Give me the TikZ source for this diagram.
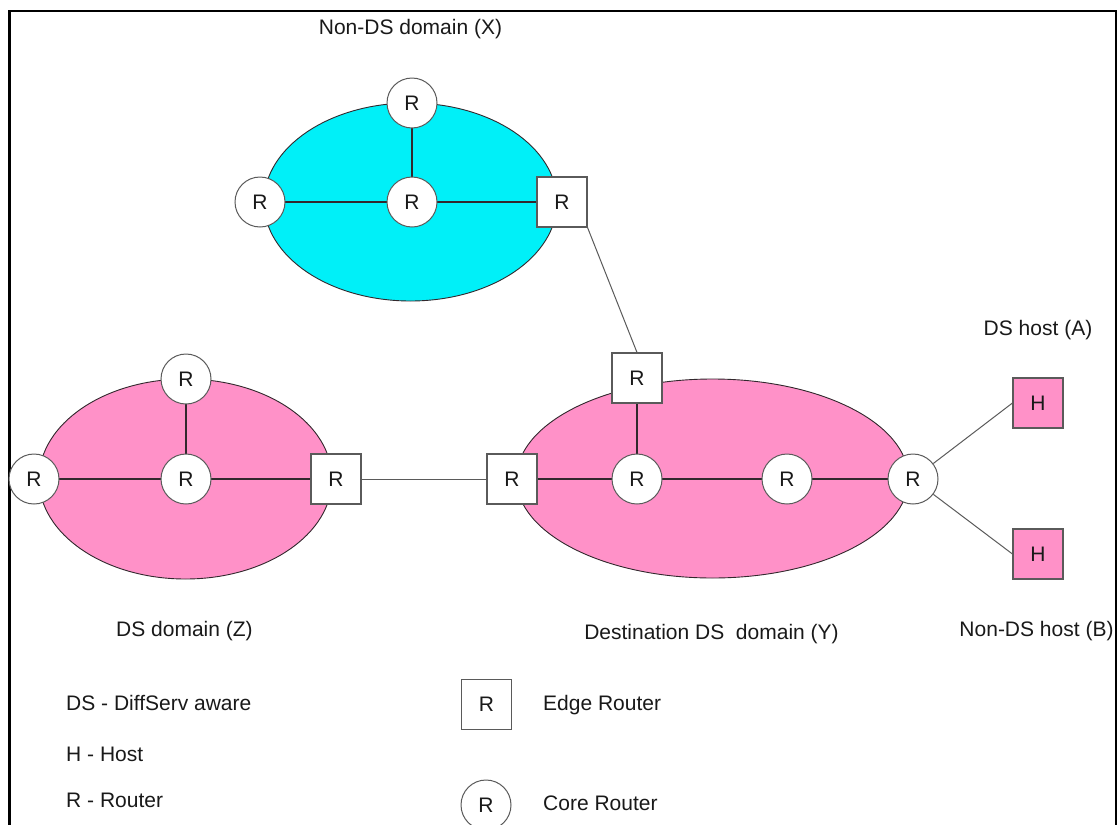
\documentclass[tikz,border=0pt]{standalone}
\usepackage{fontspec}
\setmainfont{Liberation Sans}
\usetikzlibrary{shapes.geometric}

\definecolor{domcyan}{RGB}{0,240,248}
\definecolor{dompink}{RGB}{255,145,200}
\definecolor{inkline}{RGB}{50,40,45}
\definecolor{linkgray}{RGB}{90,90,90}
\definecolor{txt}{RGB}{25,25,25}

\tikzset{
  netdomain/.style={ellipse, draw=inkline, line width=0.9pt, inner sep=0pt},
  corert/.style={circle, draw=linkgray, fill=white, line width=1pt,
    minimum size=50pt, inner sep=0pt, text=txt},
  edgert/.style={rectangle, draw=linkgray, fill=white, line width=1.1pt,
    minimum size=50pt, inner sep=0pt, text=txt},
  hostbox/.style={edgert, fill=dompink},
  inlink/.style={draw=inkline, line width=1.1pt},
  outlink/.style={draw=linkgray, line width=1pt},
  caption/.style={inner sep=0pt, text=txt},
}

\begin{document}
\begin{tikzpicture}[x=1pt, y=-1pt, font=\fontsize{21}{25}\selectfont]
\useasboundingbox (0,0) rectangle (1117,825);

% outer frame (open at the bottom)
\draw[line width=2.4pt, line join=miter] (9.5,830) -- (9.5,11) -- (1116,11) -- (1116,830);

% domains
\node[netdomain, fill=domcyan, minimum width=293pt, minimum height=198pt] (domx) at (410.5,202) {};
\node[netdomain, fill=dompink, minimum width=293pt, minimum height=200pt] (domz) at (185.5,479) {};
\node[netdomain, fill=dompink, minimum width=392pt, minimum height=199pt] (domy) at (712.5,478.5) {};

% links inside the domains
\coordinate (xtc) at (412,103);
\coordinate (xcc) at (412,202);
\draw[inlink] (xtc) -- (xcc);
\draw[inlink] (260,202) coordinate (xlc) -- (xcc);
\draw[inlink] (xcc) -- (562,202) coordinate (xec);

\draw[inlink] (186,379) coordinate (ztc) -- (186,479) coordinate (zcc);
\draw[inlink] (34,479) coordinate (zlc) -- (zcc);
\draw[inlink] (zcc) -- (336,479) coordinate (zec);

\draw[inlink] (512,479) coordinate (ylc) -- (637,479) coordinate (ycc);
\draw[inlink] (637,378) coordinate (ytc) -- (ycc);
\draw[inlink] (ycc) -- (787,479) coordinate (ymc);
\draw[inlink] (ymc) -- (913,479) coordinate (yrc);

% routers of domain X
\node[corert] (xt) at (xtc) {R};
\node[corert] (xc) at (xcc) {R};
\node[corert] (xl) at (xlc) {R};
\node[edgert] (xe) at (xec) {R};

% routers of domain Z
\node[corert] (zt) at (ztc) {R};
\node[corert] (zc) at (zcc) {R};
\node[corert] (zl) at (zlc) {R};
\node[edgert] (ze) at (zec) {R};

% routers of domain Y
\node[edgert] (yl) at (ylc) {R};
\node[edgert] (yt) at (ytc) {R};
\node[corert] (yc) at (ycc) {R};
\node[corert] (ym) at (ymc) {R};
\node[corert] (yr) at (yrc) {R};

% hosts
\node[hostbox] (ha) at (1038,403) {H};
\node[hostbox] (hb) at (1038,554) {H};

% links between domains and to hosts
\draw[outlink] (xe.south east) -- (yt.north);
\draw[outlink] (ze) -- (yl);
\draw[outlink] (yr) -- (ha.west);
\draw[outlink] (yr) -- (hb.west);

% captions
\node[caption, anchor=base] (capx) at (410.5,34.5) {Non-DS domain (X)};
\node[caption, anchor=base] (capa) at (1038,335.5) {DS host (A)};
\node[caption, anchor=base] (capb) at (1036.5,636) {Non-DS host (B)};
\node[caption, anchor=base] (capz) at (184.5,636) {DS domain (Z)};
\node[caption, anchor=base] (capy) at (711.5,639) {Destination DS\ \ domain (Y)};

% legend
\node[caption, anchor=base west] (lg1) at (66,710.5) {DS - DiffServ aware};
\node[caption, anchor=base west] (lg2) at (66,761.5) {H - Host};
\node[caption, anchor=base west] (lg3) at (66,807.5) {R - Router};
\node[edgert] (lgsq) at (486.5,704.5) {R};
\node[caption, anchor=base west] (lgsqt) at (543,710.5) {Edge Router};
\node[corert] (lgci) at (486,805) {R};
\node[caption, anchor=base west] (lgcit) at (543,810.5) {Core Router};
\end{tikzpicture}
\end{document}
